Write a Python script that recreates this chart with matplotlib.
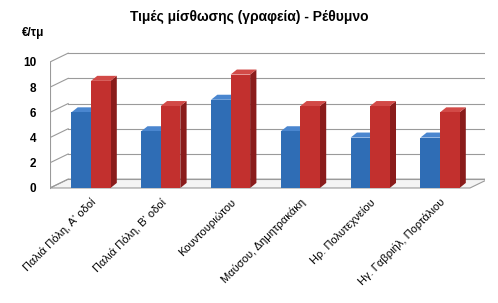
import numpy as np
import matplotlib
matplotlib.use("Agg")
import matplotlib.pyplot as plt
from matplotlib.patches import Polygon

plt.rcParams['font.family'] = ['Liberation Sans', 'DejaVu Sans']

categories = ["Παλιά Πόλη, Α' οδοί", "Παλιά Πόλη, Β' οδοί", "Κουντουριώτου",
              "Μαύσου, Δημητρακάκη", "Ηρ. Πολυτεχνείου", "Ηγ. Γαβριήλ, Πορτάλιου"]
series_a = [6, 4.5, 7, 4.5, 4, 4]
series_b = [8.5, 6.5, 9, 6.5, 6.5, 6]
yticks = [0, 2, 4, 6, 8, 10]

# pseudo 3d settings (data units)
xl, xr = -0.587, 5.43
ddx, ddy = 0.26, 0.7     # wall depth
bdx, bdy = 0.09, 0.4     # bar depth
bw = 0.28

faces = {
    'a': ('#2F6DB5', '#4A86CF', '#1E4C86'),
    'b': ('#C2302E', '#D24A47', '#8A1C1B'),
}

fig = plt.figure(figsize=(4.98, 3.03), dpi=100)
ax = fig.add_axes([50 / 498, 113 / 303, 435 / 498, 140 / 303])
ax.set_xlim(xl, 5.645)
ax.set_ylim(-0.16, 10.95)
for s in ax.spines.values():
    s.set_visible(False)

grid_c = '#9A9A9A'
# floor
ax.add_patch(Polygon([(xl, 0), (xr, 0), (xr + ddx, ddy), (xl + ddx, ddy)],
                     closed=True, facecolor='#F4F4F4', edgecolor=grid_c, lw=0.8, zorder=1))
for v in yticks:
    ax.plot([xl, xl + ddx], [v, v + ddy], color=grid_c, lw=0.8, zorder=1)
    ax.plot([xl + ddx, xr + ddx], [v + ddy, v + ddy], color=grid_c, lw=0.8, zorder=1)
ax.plot([xl, xl], [0, yticks[-1]], color=grid_c, lw=0.8, zorder=1)

x = np.arange(len(categories))


def bar3d(x0, h, key):
    front, top, side = faces[key]
    x1 = x0 + bw
    ax.add_patch(Polygon([(x1, 0), (x1 + bdx, bdy), (x1 + bdx, h + bdy), (x1, h)],
                         closed=True, facecolor=side, edgecolor='none', zorder=3))
    ax.add_patch(Polygon([(x0, h), (x1, h), (x1 + bdx, h + bdy), (x0 + bdx, h + bdy)],
                         closed=True, facecolor=top, edgecolor='none', zorder=3))
    ax.bar(x0, h, width=bw, align='edge', color=front, edgecolor='none', zorder=3)


for i in range(len(categories)):
    bar3d(x[i] - bw, series_a[i], 'a')
    bar3d(x[i], series_b[i], 'b')

ax.set_yticks(yticks)
ax.set_yticklabels([str(v) for v in yticks], fontsize=8.5, fontweight='bold')
ax.tick_params(axis='y', length=0, pad=10)
ax.set_xticks(x)
ax.set_xticklabels(categories, rotation=45, ha='right', rotation_mode='anchor', fontsize=8)
ax.tick_params(axis='x', length=0, pad=5)

fig.text(0.5, 1 - 17 / 303, "Τιμές μίσθωσης (γραφεία) - Ρέθυμνο", ha='center', va='center',
         fontsize=10, fontweight='bold')
fig.text(22 / 498, 1 - 33 / 303, "€/τμ", ha='left', va='center', fontsize=8.5, fontweight='bold')

fig.savefig("out.png", dpi=100)
